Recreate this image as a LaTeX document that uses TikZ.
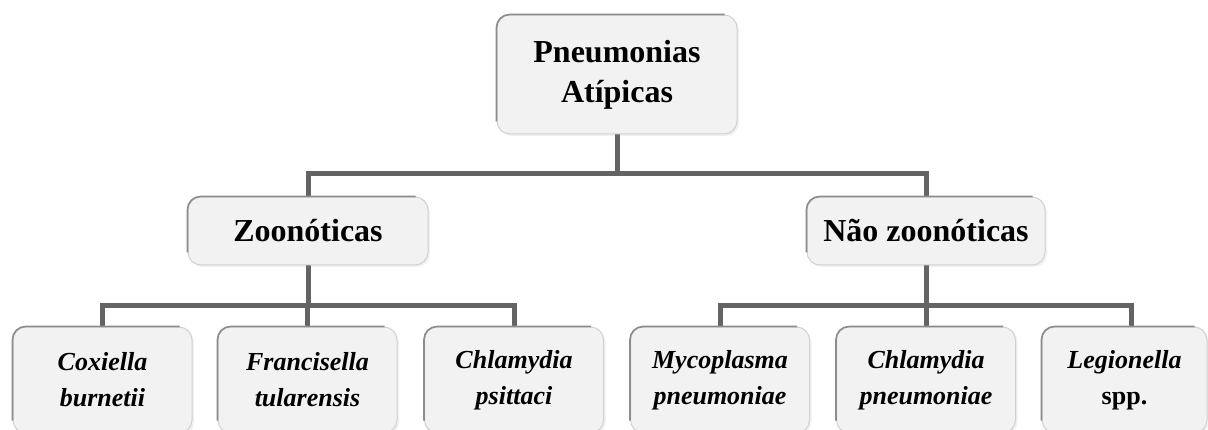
\documentclass[tikz,border=0pt]{standalone}
\usepackage{fontspec}
\setmainfont{Liberation Serif}
\usepackage{tikz}
\usetikzlibrary{positioning, shadows, backgrounds}
\definecolor{boxfill}{RGB}{242,242,242}
\definecolor{rimgray}{RGB}{140,140,140}
\definecolor{linkgray}{RGB}{100,100,100}

\begin{document}
\begin{tikzpicture}[
    x=1pt, y=-1pt,
    box/.style={rectangle, rounded corners=13pt, fill=boxfill, draw=black!18,
                line width=1pt, align=center,
                drop shadow={shadow xshift=2pt, shadow yshift=-2pt, opacity=0.12}},
    head/.style={box, font=\fontsize{32}{40}\selectfont\bfseries},
    leaf/.style={box, minimum width=179pt, minimum height=106pt,
                 font=\fontsize{26}{36}\selectfont\bfseries\itshape},
    rim/.style={draw=rimgray, line width=1.6pt, rounded corners=13pt},
    link/.style={draw=linkgray, line width=5pt}
  ]
    \useasboundingbox (0,0) rectangle (1208,430);
    \clip (0,0) rectangle (1208,430);

    \node[head, minimum width=240pt, minimum height=119pt] (root) at (617,74.5) {Pneumonias\\Atípicas};
    \node[head, minimum width=240pt, minimum height=68pt]  (zoo)  at (308,231) {Zoonóticas};
    \node[head, minimum width=238pt, minimum height=68pt]  (nzoo) at (926,231) {Não zoonóticas};

    \node[leaf] (cox) at (102.5,380) {Coxiella\\burnetii};
    \node[leaf] (fra) at (307.5,380) {Francisella\\tularensis};
    \node[leaf] (psi) at (514,380)   {Chlamydia\\psittaci};
    \node[leaf] (myc) at (720,380)   {Mycoplasma\\pneumoniae};
    \node[leaf] (cpn) at (926,380)   {Chlamydia\\pneumoniae};
    \node[leaf, minimum width=165pt] (leg) at (1124.5,380) {Legionella\\\upshape spp.};

    % darker top and left edge
    \foreach \n in {root,zoo,nzoo,cox,fra,psi,myc,cpn,leg}
      \draw[rim] ([yshift=13pt]\n.south west) -- (\n.north west) -- ([xshift=-13pt]\n.north east);

    \begin{scope}[on background layer]
      \draw[link] (root.south) -- ++(0,39) coordinate (hub) -| (zoo.north);
      \draw[link] (hub) -| (nzoo.north);
      \draw[link] (zoo.south) -- ++(0,40) coordinate (hubz) -| (cox.north);
      \draw[link] (hubz) -| (fra.north);
      \draw[link] (hubz) -| (psi.north);
      \draw[link] (nzoo.south) -- ++(0,40) coordinate (hubn) -| (myc.north);
      \draw[link] (hubn) -| (cpn.north);
      \draw[link] (hubn) -| ([xshift=7pt]leg.north);
    \end{scope}
  \end{tikzpicture}
\end{document}
